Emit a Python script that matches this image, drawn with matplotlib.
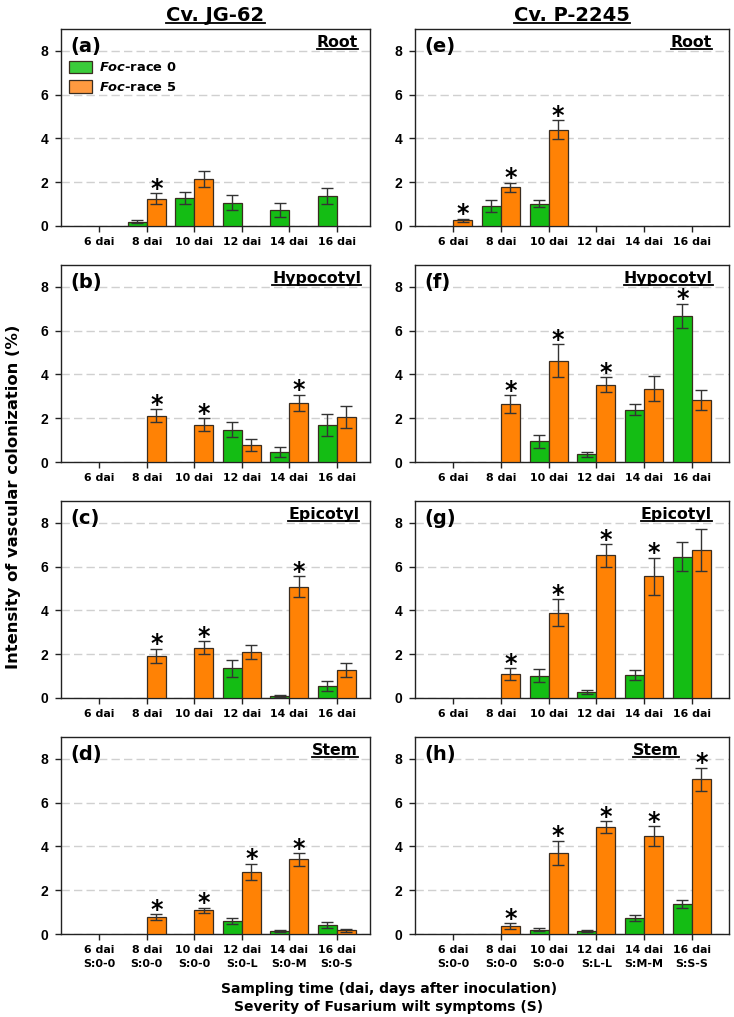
import matplotlib
matplotlib.use("Agg")
import matplotlib.pyplot as plt
import numpy as np
from matplotlib.lines import Line2D
from matplotlib.patches import Patch

plt.rcParams['font.family'] = 'DejaVu Sans'
plt.rcParams['font.weight'] = 'bold'
plt.rcParams['mathtext.fontset'] = 'custom'
plt.rcParams['mathtext.it'] = 'DejaVu Sans:italic:bold'
plt.rcParams['mathtext.rm'] = 'DejaVu Sans:bold'

# ---- data ----
days = ['6 dai', '8 dai', '10 dai', '12 dai', '14 dai', '16 dai']
severity_jg62 = ['S:0-0', 'S:0-0', 'S:0-0', 'S:0-L', 'S:0-M', 'S:0-S']
severity_p2245 = ['S:0-0', 'S:0-0', 'S:0-0', 'S:L-L', 'S:M-M', 'S:S-S']
cultivars = ['Cv. JG-62', 'Cv. P-2245']
organs = ['Root', 'Hypocotyl', 'Epicotyl', 'Stem']
panel_letters = ['(a)', '(b)', '(c)', '(d)', '(e)', '(f)', '(g)', '(h)']

# Cv. JG-62
root_jg_r0 = [0, 0.20, 1.28, 1.07, 0.73, 1.37]
root_jg_r0_err = [0, 0.06, 0.26, 0.36, 0.31, 0.37]
root_jg_r5 = [0, 1.24, 2.15, 0, 0, 0]
root_jg_r5_err = [0, 0.25, 0.38, 0, 0, 0]
root_jg_stars0, root_jg_stars5 = [], [1]

hypo_jg_r0 = [0, 0, 0, 1.48, 0.47, 1.70]
hypo_jg_r0_err = [0, 0, 0, 0.34, 0.22, 0.49]
hypo_jg_r5 = [0, 2.11, 1.70, 0.78, 2.69, 2.05]
hypo_jg_r5_err = [0, 0.30, 0.29, 0.26, 0.38, 0.49]
hypo_jg_stars0, hypo_jg_stars5 = [], [1, 2, 4]

epi_jg_r0 = [0, 0, 0, 1.36, 0.09, 0.55]
epi_jg_r0_err = [0, 0, 0, 0.38, 0.06, 0.21]
epi_jg_r5 = [0, 1.92, 2.30, 2.10, 5.09, 1.30]
epi_jg_r5_err = [0, 0.32, 0.29, 0.34, 0.47, 0.32]
epi_jg_stars0, epi_jg_stars5 = [], [1, 2, 4]

stem_jg_r0 = [0, 0, 0, 0.59, 0.14, 0.41]
stem_jg_r0_err = [0, 0, 0, 0.14, 0.06, 0.12]
stem_jg_r5 = [0, 0.78, 1.08, 2.84, 3.41, 0.17]
stem_jg_r5_err = [0, 0.12, 0.11, 0.38, 0.29, 0.06]
stem_jg_stars0, stem_jg_stars5 = [], [1, 2, 3, 4]

# Cv. P-2245
root_p_r0 = [0, 0.90, 1.02, 0, 0, 0]
root_p_r0_err = [0, 0.27, 0.15, 0, 0, 0]
root_p_r5 = [0.26, 1.77, 4.40, 0, 0, 0]
root_p_r5_err = [0.07, 0.21, 0.43, 0, 0, 0]
root_p_stars0, root_p_stars5 = [], [0, 1, 2]

hypo_p_r0 = [0, 0, 0.95, 0.35, 2.39, 6.67]
hypo_p_r0_err = [0, 0, 0.30, 0.11, 0.25, 0.55]
hypo_p_r5 = [0, 2.65, 4.63, 3.53, 3.35, 2.83]
hypo_p_r5_err = [0, 0.40, 0.75, 0.35, 0.57, 0.46]
hypo_p_stars0, hypo_p_stars5 = [5], [1, 2, 3]

epi_p_r0 = [0, 0, 1.01, 0.27, 1.05, 6.46]
epi_p_r0_err = [0, 0, 0.30, 0.09, 0.23, 0.66]
epi_p_r5 = [0, 1.10, 3.90, 6.51, 5.56, 6.77]
epi_p_r5_err = [0, 0.26, 0.61, 0.52, 0.84, 0.96]
epi_p_stars0, epi_p_stars5 = [], [1, 2, 3, 4]

stem_p_r0 = [0, 0, 0.20, 0.12, 0.73, 1.36]
stem_p_r0_err = [0, 0, 0.07, 0.05, 0.14, 0.19]
stem_p_r5 = [0, 0.37, 3.70, 4.89, 4.48, 7.06]
stem_p_r5_err = [0, 0.12, 0.55, 0.26, 0.44, 0.53]
stem_p_stars0, stem_p_stars5 = [], [1, 2, 3, 4, 5]

GREEN = '#14BD14'
ORANGE = '#FF8205'
EDGE = '#3a2d20'
BAR_W = 0.4


def draw_bars(ax, values, errors, stars, offset, color):
    x = np.arange(len(days))
    values = np.asarray(values, dtype=float)
    errors = np.asarray(errors, dtype=float)
    m = values > 0
    ax.bar(x[m] + offset, values[m], BAR_W, yerr=errors[m], color=color,
           edgecolor=EDGE, linewidth=0.9, zorder=3,
           error_kw=dict(ecolor='#333333', elinewidth=1.0, capsize=4.5, capthick=1.0, zorder=4))
    for i in stars:
        ax.annotate('*', xy=(x[i] + offset, values[i] + errors[i]), xytext=(0, -1.8),
                    textcoords='offset points', ha='center', va='baseline',
                    fontsize=17, fontweight='bold', zorder=5)


def style_axis(ax, xlim, ticklabels):
    ax.set_xlim(*xlim)
    ax.set_ylim(0, 9)
    ax.set_yticks([0, 2, 4, 6, 8])
    ax.set_xticks(np.arange(len(days)))
    ax.set_xticklabels(ticklabels, fontsize=7.9, fontweight='bold', linespacing=1.5)
    for lab in ax.get_yticklabels():
        lab.set_fontfamily('Liberation Sans')
        lab.set_fontweight('bold')
        lab.set_fontsize(10)
    ax.tick_params(axis='both', direction='out', length=4, width=1, color='#222222')
    ax.tick_params(axis='x', pad=4)
    ax.tick_params(axis='y', pad=5)
    ax.yaxis.grid(True, linestyle=(0, (6, 3)), color='#d0d0d0', linewidth=1)
    ax.set_axisbelow(True)
    for sp in ax.spines.values():
        sp.set_color('#222222')
        sp.set_linewidth(1.0)


fig = plt.figure(figsize=(7.34, 10.17), dpi=100)

col_left = [0.0831, 0.5654]
col_width = [0.421, 0.4278]
col_xlim = [(-0.807, 5.70), (-0.80, 5.78)]
row_bottom = [0.7778, 0.5457, 0.3137, 0.0816]
row_height = 0.1937

panels = [
    [(root_jg_r0, root_jg_r0_err, root_jg_r5, root_jg_r5_err, root_jg_stars0, root_jg_stars5),
     (hypo_jg_r0, hypo_jg_r0_err, hypo_jg_r5, hypo_jg_r5_err, hypo_jg_stars0, hypo_jg_stars5),
     (epi_jg_r0, epi_jg_r0_err, epi_jg_r5, epi_jg_r5_err, epi_jg_stars0, epi_jg_stars5),
     (stem_jg_r0, stem_jg_r0_err, stem_jg_r5, stem_jg_r5_err, stem_jg_stars0, stem_jg_stars5)],
    [(root_p_r0, root_p_r0_err, root_p_r5, root_p_r5_err, root_p_stars0, root_p_stars5),
     (hypo_p_r0, hypo_p_r0_err, hypo_p_r5, hypo_p_r5_err, hypo_p_stars0, hypo_p_stars5),
     (epi_p_r0, epi_p_r0_err, epi_p_r5, epi_p_r5_err, epi_p_stars0, epi_p_stars5),
     (stem_p_r0, stem_p_r0_err, stem_p_r5, stem_p_r5_err, stem_p_stars0, stem_p_stars5)],
]
severities = [severity_jg62, severity_p2245]
# right edge (axes fraction) of the underlined organ names
organ_right = [[0.961, 0.971, 0.965, 0.961], [0.946, 0.949, 0.946, 0.84]]

underlined = []
for c in range(2):
    for r in range(4):
        ax = fig.add_axes([col_left[c], row_bottom[r], col_width[c], row_height])
        r0, r0e, r5, r5e, s0, s5 = panels[c][r]
        draw_bars(ax, r0, r0e, s0, -BAR_W / 2, GREEN)
        draw_bars(ax, r5, r5e, s5, BAR_W / 2, ORANGE)
        if r == 3:
            labels = [f'{d}\n{s}' for d, s in zip(days, severities[c])]
        else:
            labels = days
        style_axis(ax, col_xlim[c], labels)
        ax.text(0.03, 0.885, panel_letters[c * 4 + r], transform=ax.transAxes,
                fontsize=14, fontweight='bold', ha='left', va='baseline')
        t = ax.text(organ_right[c][r], 0.91, organs[r], transform=ax.transAxes,
                    fontsize=11.3, fontweight='bold', ha='right', va='baseline')
        underlined.append(t)
        if c == 0 and r == 0:
            handles = [Patch(facecolor='#3ACC3A', edgecolor=EDGE, linewidth=0.9,
                             label=r'$\mathit{Foc}$-race 0'),
                       Patch(facecolor='#FF9A40', edgecolor=EDGE, linewidth=0.9,
                             label=r'$\mathit{Foc}$-race 5')]
            ax.legend(handles=handles, loc='upper left', bbox_to_anchor=(0.027, 0.84),
                      frameon=False, fontsize=9.4, handlelength=1.75, handleheight=1.15,
                      handletextpad=0.5, labelspacing=0.45, borderpad=0, borderaxespad=0)
        if r == 0:
            cx = col_left[c] + col_width[c] / 2
            t = fig.text(cx, 1 - 21 / 1017, cultivars[c], fontsize=14, fontweight='bold',
                         ha='center', va='baseline')
            underlined.append(t)

fig.text(14 / 734, 1 - 497 / 1017, 'Intensity of vascular colonization (%)', rotation=90,
         fontsize=11.8, fontweight='bold', ha='center', va='center')
fig.text(389 / 734, 1 - 989 / 1017, 'Sampling time (dai, days after inoculation)',
         fontsize=10, fontweight='bold', ha='center', va='center')
fig.text(389 / 734, 1 - 1007 / 1017, 'Severity of Fusarium wilt symptoms (S)',
         fontsize=10, fontweight='bold', ha='center', va='center')

# underline the titles: line just below the baseline
fig.canvas.draw()
inv = fig.transFigure.inverted()
for t in underlined:
    bb = t.get_window_extent()
    base_y = t.get_transform().transform(t.get_position())[1]
    (x0, y0), (x1, _) = inv.transform([(bb.x0, base_y - 2.5), (bb.x1, base_y - 2.5)])
    fig.add_artist(Line2D([x0, x1], [y0, y0], transform=fig.transFigure,
                          color='black', linewidth=1.3))

fig.savefig('out.png', dpi=100)
